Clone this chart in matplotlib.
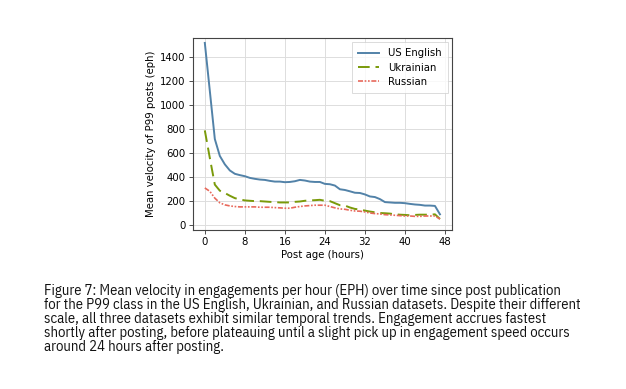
import matplotlib
matplotlib.use("Agg")
import matplotlib.pyplot as plt

hours = list(range(48))
us_english = [1520, 1120, 718, 577, 507, 456, 428, 417, 408, 394, 386, 380, 377, 369, 363, 363,
              358, 360, 366, 377, 372, 363, 360, 360, 344, 341, 330, 299, 293, 282, 270, 268,
              256, 239, 234, 217, 192, 189, 186, 186, 183, 177, 172, 169, 163, 163, 160, 90]
ukrainian = [790, 560, 338, 287, 268, 245, 225, 214, 206, 203, 200, 200, 197, 194, 192, 189,
             189, 189, 194, 197, 203, 206, 208, 211, 203, 200, 183, 166, 163, 147, 135, 130,
             121, 113, 107, 101, 99, 96, 90, 87, 85, 82, 85, 87, 87, 87, 90, 51]
russian = [310, 282, 225, 186, 169, 160, 155, 152, 152, 152, 152, 149, 149, 149, 146, 144,
           141, 141, 149, 155, 160, 163, 166, 166, 166, 155, 144, 135, 132, 124, 118, 116,
           110, 101, 96, 93, 87, 85, 82, 79, 76, 76, 73, 73, 76, 76, 76, 51]
labels = ["US English", "Ukrainian", "Russian"]
xticks = [0, 8, 16, 24, 32, 40, 48]
yticks = [0, 200, 400, 600, 800, 1000, 1200, 1400]

caption_lines = [
    "Figure 7: Mean velocity in engagements per hour (EPH) over time since post publication",
    "for the P99 class in the US English, Ukrainian, and Russian datasets. Despite their different",
    "scale, all three datasets exhibit similar temporal trends. Engagement accrues fastest",
    "shortly after posting, before plateauing until a slight pick up in engagement speed occurs",
    "around 24 hours after posting.",
]

W, H = 626, 389
fig = plt.figure(figsize=(W / 100, H / 100), dpi=100)
ax = fig.add_axes([0.308, 0.409, 0.414, 0.493])

ax.plot(hours, us_english, color="#5282a8", lw=1.4, label=labels[0])
ax.plot(hours, ukrainian, color="#7a9a0a", lw=1.4, ls=(0, (6, 3)), label=labels[1])
ax.plot(hours, russian, color="#e8695c", lw=1.2, ls=(0, (3, 1, 1, 1, 1, 1)), label=labels[2])

ax.set_xlim(-2.4, 49.4)
ax.set_ylim(-40, 1560)
ax.set_xticks(xticks)
ax.set_yticks(yticks)
ax.tick_params(labelsize=7.3, length=3, width=0.6, color="#333333", pad=2)
ax.grid(True, color="#dddddd", lw=0.7)
ax.set_axisbelow(True)
for s in ax.spines.values():
    s.set_color("#444444")
    s.set_linewidth(0.8)
ax.set_xlabel("Post age (hours)", fontsize=7.3, labelpad=2)
ax.set_ylabel("Mean velocity of P99 posts (eph)", fontsize=7.3, labelpad=3)

leg = ax.legend(loc="upper right", fontsize=7.3, frameon=True, fancybox=False,
                edgecolor="#cccccc", handlelength=2.1, borderpad=0.6, labelspacing=0.42,
                handletextpad=0.9, borderaxespad=0.4)
leg.get_frame().set_linewidth(0.6)

# caption, font size fitted so that the first line spans the reference width
cap_family = ["IBM Plex Sans Condensed", "DejaVu Sans"]
left_px, target_w = 44, 516
baselines = [295, 309, 323, 336.7, 350.7]
fig.canvas.draw()
probe = fig.text(0, 0, caption_lines[0], fontsize=10, family=cap_family)
w10 = probe.get_window_extent(renderer=fig.canvas.get_renderer()).width
probe.remove()
cap_size = 10 * target_w / w10
for line, yb in zip(caption_lines, baselines):
    fig.text(left_px / W, 1 - yb / H, line, fontsize=cap_size, family=cap_family,
             ha="left", va="baseline", color="#111111")

fig.savefig("out.png", dpi=100)
